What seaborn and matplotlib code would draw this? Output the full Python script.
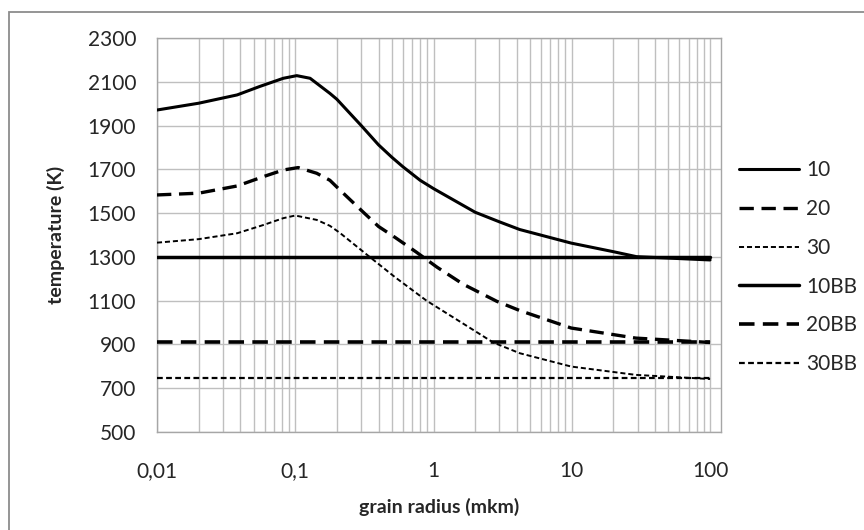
import numpy as np
import pandas as pd
import seaborn as sns
import matplotlib.pyplot as plt
from matplotlib.patches import Rectangle
from matplotlib.ticker import FixedLocator, NullFormatter

# ---------- data ----------
radius_10 = [0.01, 0.02, 0.038, 0.055, 0.082, 0.1025, 0.128, 0.178, 0.2, 0.3, 0.4,
             0.5, 0.6, 0.8, 1, 2, 3, 4.2, 9.9, 19.9, 29.4, 100]
t_10 = [1971, 2002, 2040, 2078, 2116, 2128, 2116, 2047, 2020, 1900, 1812,
        1755, 1712, 1650, 1612, 1504, 1460, 1425, 1363, 1324, 1301, 1286]

radius_20 = [0.01, 0.02, 0.038, 0.059, 0.082, 0.105, 0.143, 0.178, 0.21, 0.3, 0.4,
             0.53, 0.75, 1.06, 1.64, 2.87, 4.2, 9.9, 29, 100]
t_20 = [1583, 1591, 1624, 1667, 1697, 1708, 1682, 1650, 1606, 1513, 1439,
        1388, 1322, 1253, 1175, 1097, 1055, 975, 929, 909]

radius_30 = [0.01, 0.02, 0.038, 0.059, 0.082, 0.1, 0.143, 0.178, 0.21, 0.345, 0.53,
             0.89, 1.64, 2.7, 4.2, 9.9, 29, 100]
t_30 = [1365, 1381, 1408, 1446, 1477, 1489, 1469, 1442, 1410, 1300, 1206,
        1100, 995, 909, 860, 799, 761, 742]

radius_bb = [0.01, 100]
t_10bb = [1300, 1300]
t_20bb = [911, 911]
t_30bb = [746, 746]

series = ['10', '20', '30', '10BB', '20BB', '30BB']
x_labels = ['0,01', '0,1', '1', '10', '100']

df = pd.concat([
    pd.DataFrame({'radius': radius_10, 'T': t_10, 'series': '10'}),
    pd.DataFrame({'radius': radius_20, 'T': t_20, 'series': '20'}),
    pd.DataFrame({'radius': radius_30, 'T': t_30, 'series': '30'}),
    pd.DataFrame({'radius': radius_bb, 'T': t_10bb, 'series': '10BB'}),
    pd.DataFrame({'radius': radius_bb, 'T': t_20bb, 'series': '20BB'}),
    pd.DataFrame({'radius': radius_bb, 'T': t_30bb, 'series': '30BB'}),
], ignore_index=True)

# ---------- style ----------
sns.set_style('white')
plt.rcParams['font.family'] = ['Lato', 'DejaVu Sans']
FS = 15
LFS = 14
GRID = '#bfbfbf'

dashes = {'10': '', '20': (4.3, 2.3), '30': (2.6, 1.5),
          '10BB': '', '20BB': (4.3, 2.3), '30BB': (2.6, 1.5)}
widths = {'10': 2.2, '20': 2.4, '30': 1.4, '10BB': 2.5, '20BB': 2.6, '30BB': 1.6}
palette = {s: 'black' for s in series}

fig = plt.figure(figsize=(8.64, 5.30), dpi=100)
ax = fig.add_axes([157 / 864, 1 - 432 / 530, (721 - 157) / 864, (432 - 38) / 530])

# outer chart border
fig.patches.append(Rectangle((9 / 864, -0.1), 1.2, 1.1 - 12 / 530,
                             transform=fig.transFigure, fill=False,
                             edgecolor='#8c8c8c', lw=1.3, zorder=0))

sns.lineplot(data=df, x='radius', y='T', hue='series', style='series', size='series',
             hue_order=series, style_order=series, size_order=series,
             palette=palette, dashes=dashes, sizes=widths,
             sort=False, estimator=None, legend=False, ax=ax, zorder=3)

ax.set_xscale('log')
ax.set_xlim(0.01, 120)
ax.set_ylim(500, 2300)

# gridlines like the spreadsheet
ax.set_yticks(np.arange(500, 2301, 200))
ax.xaxis.set_major_locator(FixedLocator([0.01, 0.1, 1, 10, 100]))
minor = [m * d for d in [0.01, 0.1, 1, 10] for m in range(2, 10)]
ax.xaxis.set_minor_locator(FixedLocator(minor))
ax.xaxis.set_minor_formatter(NullFormatter())
ax.set_xticklabels(x_labels)
ax.grid(True, which='major', color=GRID, lw=1)
ax.grid(True, which='minor', axis='x', color=GRID, lw=1)

ax.tick_params(axis='x', which='major', direction='out', length=5, width=1,
               color='#8c8c8c', pad=16, labelsize=FS, labelcolor='#262626')
ax.tick_params(axis='x', which='minor', length=0)
ax.tick_params(axis='y', length=0, pad=15, labelsize=FS, labelcolor='#262626')

for sp in ax.spines.values():
    sp.set_color('#a6a6a6')
    sp.set_linewidth(1)

ax.set_xlabel('grain radius (mkm)', fontsize=LFS, fontweight='bold', labelpad=12)
ax.set_ylabel('temperature (K)', fontsize=LFS, fontweight='bold', labelpad=16)

leg = ax.legend(handles=ax.lines[:6], labels=series, loc='upper left',
                bbox_to_anchor=(731 / 864, 1 - 152 / 530), bbox_transform=fig.transFigure,
                frameon=False, fontsize=FS, handlelength=2.85, handletextpad=0.35,
                labelspacing=0.9, borderaxespad=0)

fig.savefig('out.png', dpi=100)
